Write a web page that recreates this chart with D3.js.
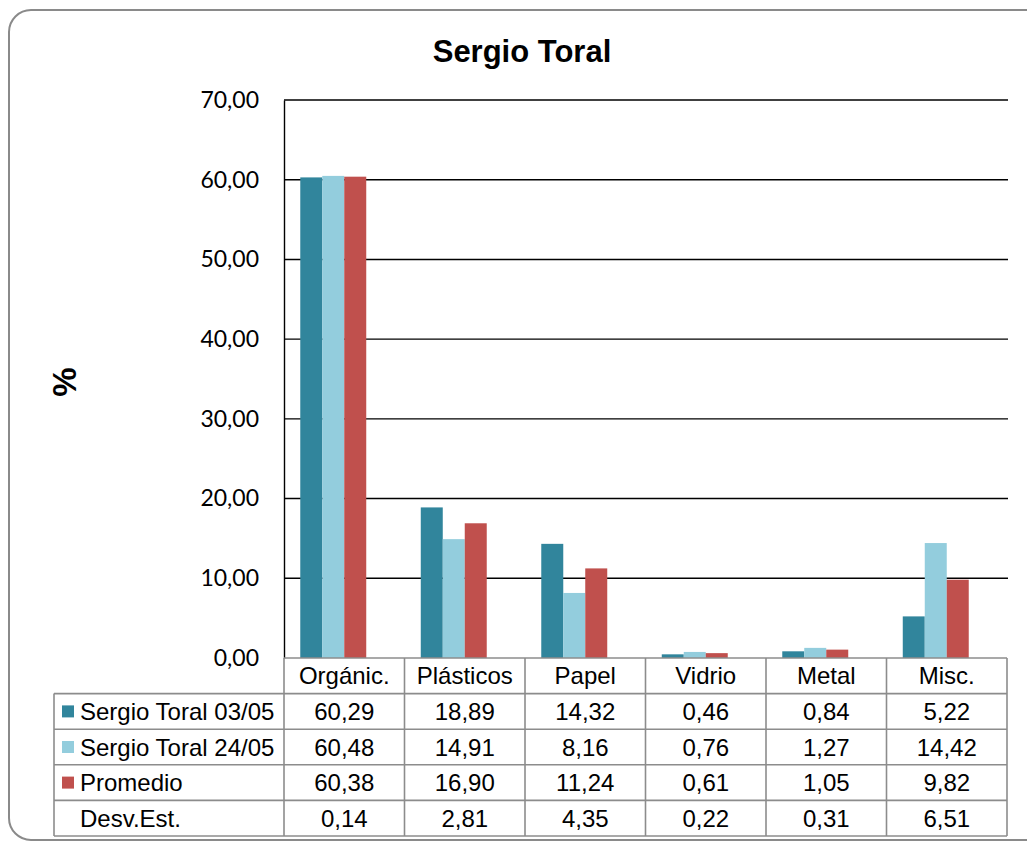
<!DOCTYPE html>
<html>
<head>
<meta charset="utf-8">
<script src="https://cdn.jsdelivr.net/npm/d3@7"></script>
<style>
  html, body { margin: 0; padding: 0; background: #fff; }
  svg { display: block; }
</style>
</head>
<body>
<svg id="chart" width="1027" height="843"></svg>
<script>
// Waste composition, Sergio Toral (%)
const categories = ["Orgánic.", "Plásticos", "Papel", "Vidrio", "Metal", "Misc."];
const seriesNames = ["Sergio Toral 03/05", "Sergio Toral 24/05", "Promedio", "Desv.Est."];
const toral0305 = [60.29, 18.89, 14.32, 0.46, 0.84, 5.22];
const toral2405 = [60.48, 14.91, 8.16, 0.76, 1.27, 14.42];
const promedio  = [60.38, 16.90, 11.24, 0.61, 1.05, 9.82];
const desvEst   = [0.14, 2.81, 4.35, 0.22, 0.31, 6.51];
const yTicks = [0, 10, 20, 30, 40, 50, 60, 70];

const seriesValues = [toral0305, toral2405, promedio, desvEst];
const seriesColors = ["#31859C", "#93CDDD", "#C0504D", null]; // Desv.Est. has no bars

const fmt = v => v.toFixed(2).replace(".", ",");

const svg = d3.select("#chart");
const tFont = "'Liberation Sans', Arial, sans-serif";

// Outer rounded frame
svg.append("rect")
  .attr("x", 9).attr("y", 10)
  .attr("width", 1050).attr("height", 830)
  .attr("rx", 22).attr("ry", 22)
  .attr("fill", "#fff")
  .attr("stroke", "#8a8a8a")
  .attr("stroke-width", 2);

const plot = { left: 284, right: 1007, top: 100, bottom: 658 };

const x = d3.scaleBand()
  .domain(categories)
  .range([plot.left, plot.right])
  .paddingInner(0).paddingOuter(0);

const bw = x.bandwidth();
const gap = bw * 0.27;
const x1 = d3.scaleBand()
  .domain(seriesNames)
  .range([gap / 2, bw - gap / 2]);

const y = d3.scaleLinear().domain([0, 70]).range([plot.bottom, plot.top]);

// Title
svg.append("text")
  .attr("x", 522).attr("y", 62)
  .attr("text-anchor", "middle")
  .attr("font-family", tFont)
  .attr("font-weight", "bold")
  .attr("font-size", 31)
  .text("Sergio Toral");

// Y axis title
svg.append("text")
  .attr("transform", "translate(76,382) rotate(-90)")
  .attr("text-anchor", "middle")
  .attr("font-family", tFont)
  .attr("font-weight", "bold")
  .attr("font-size", 33)
  .text("%");

// Gridlines
svg.append("g")
  .selectAll("line")
  .data(yTicks.filter(t => t > 0))
  .join("line")
  .attr("x1", plot.left).attr("x2", plot.right + 1)
  .attr("y1", d => y(d)).attr("y2", d => y(d))
  .attr("stroke", "#000")
  .attr("stroke-width", 1.4);

// Y axis
const yAxis = d3.axisLeft(y)
  .tickValues(yTicks)
  .tickFormat(fmt)
  .tickSize(0)
  .tickPadding(25);

const gy = svg.append("g")
  .attr("transform", `translate(${plot.left},0)`)
  .call(yAxis);
gy.select(".domain").attr("stroke", "#000").attr("stroke-width", 1.4);
gy.selectAll("text")
  .attr("font-family", "Lato, Carlito, sans-serif")
  .attr("font-size", 23)
  .attr("fill", "#000");

// Bars
const groups = svg.append("g")
  .selectAll("g")
  .data(categories)
  .join("g")
  .attr("transform", d => `translate(${x(d)},0)`);

groups.selectAll("rect")
  .data((c, i) => seriesNames.map((s, k) => ({ s, k, v: seriesValues[k][i] })).filter(d => seriesColors[d.k]))
  .join("rect")
  .attr("x", d => x1(d.s))
  .attr("width", x1.bandwidth())
  .attr("y", d => y(d.v))
  .attr("height", d => y(0) - y(d.v))
  .attr("fill", d => seriesColors[d.k]);

// Data table beneath the plot
const table = svg.append("g");
const rowH = 35.6;
const tableLeft = 54;
const headerTop = plot.bottom;
const nRows = seriesNames.length;
const tableBottom = headerTop + rowH * (nRows + 1);
const lineColor = "#8c8c8c";
const fSize = 24;
const baseOff = 8.5;

// Header cell labels
table.selectAll("text.cat")
  .data(categories)
  .join("text")
  .attr("class", "cat")
  .attr("x", d => x(d) + bw / 2)
  .attr("y", headerTop + rowH / 2 + baseOff)
  .attr("text-anchor", "middle")
  .attr("font-family", tFont)
  .attr("font-size", fSize)
  .text(d => d);

// Rows
seriesNames.forEach((name, k) => {
  const top = headerTop + rowH * (k + 1);
  const cy = top + rowH / 2;
  if (seriesColors[k]) {
    table.append("rect")
      .attr("x", 62).attr("y", cy - 6)
      .attr("width", 12).attr("height", 12)
      .attr("fill", seriesColors[k]);
  }
  table.append("text")
    .attr("x", 80).attr("y", cy + baseOff)
    .attr("font-family", tFont)
    .attr("font-size", fSize)
    .text(name);
  table.selectAll(null)
    .data(seriesValues[k])
    .join("text")
    .attr("x", (d, i) => x(categories[i]) + bw / 2)
    .attr("y", cy + baseOff)
    .attr("text-anchor", "middle")
    .attr("font-family", tFont)
    .attr("font-size", fSize)
    .text(d => fmt(d));
});

// Table grid lines
for (let r = 0; r <= nRows + 1; r++) {
  const yy = headerTop + rowH * r;
  table.append("line")
    .attr("x1", r === 0 ? plot.left : tableLeft).attr("x2", plot.right)
    .attr("y1", yy).attr("y2", yy)
    .attr("stroke", lineColor).attr("stroke-width", 1.6);
}
table.append("line")
  .attr("x1", tableLeft).attr("x2", tableLeft)
  .attr("y1", headerTop + rowH).attr("y2", tableBottom)
  .attr("stroke", lineColor).attr("stroke-width", 1.6);
categories.forEach(c => {
  table.append("line")
    .attr("x1", x(c)).attr("x2", x(c))
    .attr("y1", headerTop).attr("y2", tableBottom)
    .attr("stroke", lineColor).attr("stroke-width", 1.6);
});
table.append("line")
  .attr("x1", plot.right).attr("x2", plot.right)
  .attr("y1", headerTop).attr("y2", tableBottom)
  .attr("stroke", lineColor).attr("stroke-width", 1.6);
</script>
</body>
</html>
